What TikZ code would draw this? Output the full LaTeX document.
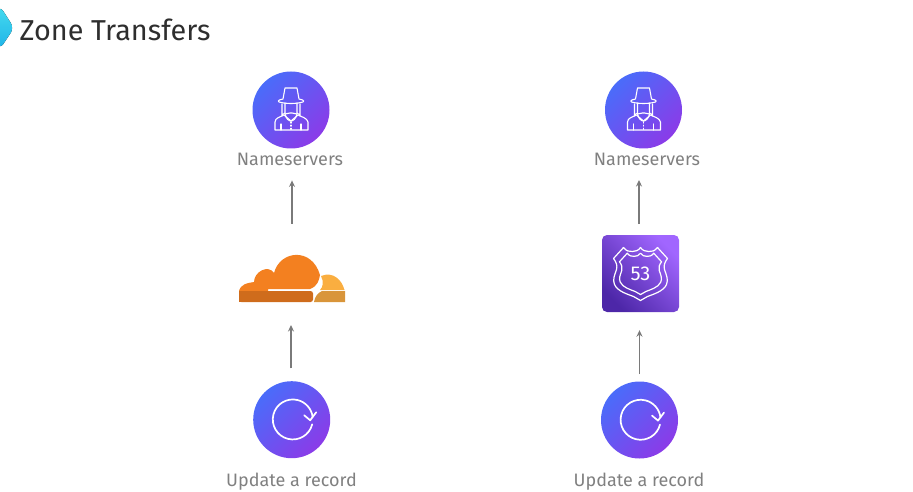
\documentclass[tikz,border=0pt]{standalone}
\usepackage{fontspec}
\setmainfont{Fira Sans}
\usetikzlibrary{arrows.meta}
\definecolor{gA}{HTML}{4A6CFA}
\definecolor{gB}{HTML}{8B3BE8}
\definecolor{awsA}{HTML}{4D27A8}
\definecolor{awsB}{HTML}{A166FF}
\definecolor{cfMain}{HTML}{F38020}
\definecolor{cfDark}{HTML}{CF6C1C}
\definecolor{cfLight}{HTML}{FAAE40}
\definecolor{cfTan}{HTML}{D9953A}
\definecolor{lblGrey}{HTML}{808080}
\definecolor{logoA}{HTML}{45DCEE}
\definecolor{logoB}{HTML}{1FB2E8}
\tikzset{
  x=1pt,y=-1pt,
  roundicon/.style={circle,minimum size=77pt,inner sep=0pt,outer sep=0pt,left color=gA,right color=gB,shading angle=45},
  lbl/.style={text=lblGrey,font=\fontsize{18}{20}\selectfont,inner sep=0pt,anchor=base},
  flow/.style={draw=black!52,line width=1.15pt,-{Stealth[length=6.5pt,width=6pt]}},
  glyph/.style={draw=white,line width=1.1pt,line join=round,line cap=round},
  spy/.pic={
    \draw[glyph] (-6,-22) -- (6,-22) -- (8,-11) .. controls (14,-10) and (13,-8) .. (12,-8)
      .. controls (5,-6) and (-5,-6) .. (-12,-8) .. controls (-13,-8) and (-14,-10) .. (-8,-11) -- cycle;
    \draw[glyph] (-6,-7) -- (-6,4) .. controls (-5,9) and (-2,11) .. (0,11) .. controls (2,11) and (5,9) .. (6,4) -- (6,-7);
    \draw[glyph] (-6,4) -- (-1,3) -- (1,3) -- (6,4);
    \draw[glyph] (-6,3) -- (-9,5) (6,3) -- (9,5) (-9,-6) -- (-9,6) (9,-6) -- (9,6);
    \draw[glyph] (-16,20) -- (-16,12) .. controls (-16,8) and (-11,7) .. (-7,5) -- (0,11) -- (7,5) .. controls (11,7) and (16,8) .. (17,12) -- (17,20) -- cycle;
    \draw[glyph] (-10,14) -- (-10,20) (10,14) -- (10,20);
    \draw[glyph,dotted] (0,12) -- (0,20);
  },
  reload/.pic={
    \draw[draw=white,line width=1.7pt,line cap=round] (20,5) arc[start angle=14,end angle=353,radius=20];
    \draw[draw=white,line width=1.7pt,line cap=round,line join=round] (12,-4) -- (18,1) -- (24,-7);
  },
  shield/.pic={
    \foreach \s in {1,0.78}{
      \draw[glyph,scale=\s,line width=1.2pt] (-17,-26)
        .. controls (-14,-22) and (-11,-22) .. (-8,-22) .. controls (-5,-22) and (-2,-23) .. (0,-26)
        .. controls (2,-23) and (5,-22) .. (8,-22) .. controls (11,-22) and (14,-22) .. (17,-26)
        -- (27,-15) .. controls (24,-11) and (23,-8) .. (24,-4) .. controls (26,2) and (28,6) .. (26,11)
        .. controls (23,18) and (12,21) .. (7,23) -- (0,27)
        -- (-7,23) .. controls (-12,21) and (-23,18) .. (-26,11) .. controls (-28,6) and (-26,2) .. (-24,-4)
        .. controls (-23,-8) and (-24,-11) .. (-27,-15) -- cycle;
    }
    \node[text=white,inner sep=0pt,font=\fontsize{20}{20}\selectfont] (num) at (0,0) {53};
  },
}
\begin{document}
\begin{tikzpicture}
\useasboundingbox (0,0) rectangle (913,492);
% logo
\fill[top color=logoA,bottom color=logoB,rounded corners=6pt]
  (-20,28) -- (0,6) -- (14,28) -- (0,49) -- cycle;
\node[anchor=base west,inner sep=0pt,text=black!82,font=\fontsize{28.8}{32}\selectfont] (title) at (19.5,41) {Zone Transfers};

% left column
\node[roundicon] (spyL) at (291,110) {};
\pic at (spyL.center) {spy};
\node[lbl] (nsL) at (290,165) {Nameservers};
\node[minimum width=106pt,minimum height=48pt,inner sep=0pt] (cloud) at (292,278) {};
\node[roundicon] (recL) at (291.7,419.7) {};
\pic at ([xshift=0.5pt,yshift=0.4pt]recL.center) {reload};
\node[lbl] (upL) at (291.5,486) {Update a record};

% cloud logo
\fill[cfMain] (239,291) .. controls (241,284) and (247,283) .. (254,282)
  .. controls (254,272) and (268,264) .. (274,273)
  .. controls (280,250) and (312,247) .. (320,275)
  .. controls (319,280) and (318,286) .. (310,289) -- (268,289) -- (268,291) -- cycle;
\fill[cfDark,rounded corners=2.5pt] (239,302) -- (239,291) -- (313,291) -- (313,302) -- cycle;
\fill[cfDark] (239,291) rectangle (250,302);
\fill[cfLight] (321,276) .. controls (333,271) and (342,280) .. (344.5,290) -- (320,290)
  .. controls (323,287) and (324,282) .. (321,276) -- cycle;
\fill[cfTan] (314,302) .. controls (315,296) and (318,293) .. (322,291) -- (345,291) -- (345,302) -- cycle;

% right column
\node[roundicon] (spyR) at (643.5,110) {};
\pic at (spyR.center) {spy};
\node[lbl] (nsR) at (647,165) {Nameservers};
\node[rounded corners=5pt,minimum size=77pt,inner sep=0pt,left color=awsB,right color=awsA,shading angle=-45] (rt) at (640.5,273.5) {};
\pic at (rt.center) {shield};
\node[roundicon] (recR) at (639.5,420) {};
\pic at ([xshift=0.5pt,yshift=0.4pt]recR.center) {reload};
\node[lbl] (upR) at (639,486) {Update a record};

% connectors
\coordinate (rtTop) at (639,235);
\coordinate (nsRfoot) at (639,165);
\draw[flow,shorten <=30pt,shorten >=15pt] (cloud.north) -- (cloud.north |- nsL.south);
\coordinate (recLtop) at (291,381.4);
\coordinate (cloudFoot) at (291,302);
\draw[flow,shorten <=13pt,shorten >=23pt] (recLtop) -- (cloudFoot);
\draw[flow,shorten <=11pt,shorten >=15pt] (rtTop) -- (nsRfoot);
\draw[flow,shorten <=7.5pt,shorten >=18pt] (recR.north) -- (rt.south -| recR.north);
\end{tikzpicture}
\end{document}
